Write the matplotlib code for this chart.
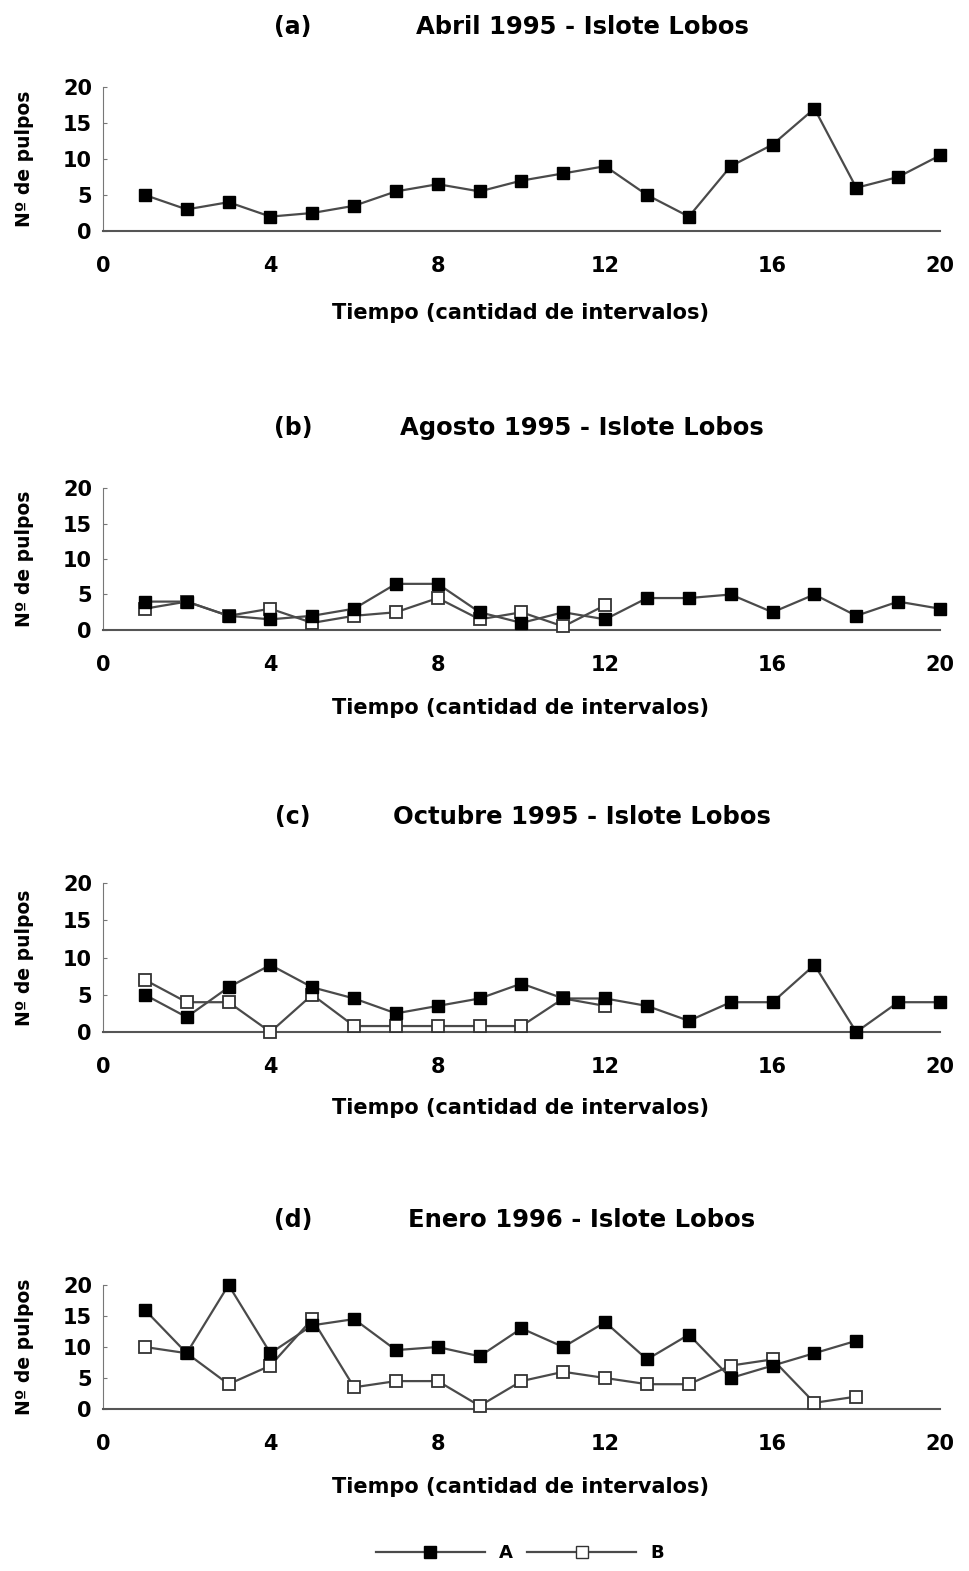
import matplotlib
matplotlib.use("Agg")
import matplotlib.pyplot as plt
from matplotlib.lines import Line2D

plt.rcParams['font.family'] = ['DejaVu Sans']
plt.rcParams['font.weight'] = 'bold'

# Data (number of octopuses per interval)
t20 = [1, 2, 3, 4, 5, 6, 7, 8, 9, 10, 11, 12, 13, 14, 15, 16, 17, 18, 19, 20]
t18 = [1, 2, 3, 4, 5, 6, 7, 8, 9, 10, 11, 12, 13, 14, 15, 16, 17, 18]
t12 = [1, 2, 3, 4, 5, 6, 7, 8, 9, 10, 11, 12]

abril_A = [5, 3, 4, 2, 2.5, 3.5, 5.5, 6.5, 5.5, 7, 8, 9, 5, 2, 9, 12, 17, 6, 7.5, 10.5]

agosto_A = [4, 4, 2, 1.5, 2, 3, 6.5, 6.5, 2.5, 1, 2.5, 1.5, 4.5, 4.5, 5, 2.5, 5, 2, 4, 3]
agosto_B = [3, 4, 2, 3, 1, 2, 2.5, 4.5, 1.5, 2.5, 0.5, 3.5]

octubre_A = [5, 2, 6, 9, 6, 4.5, 2.5, 3.5, 4.5, 6.5, 4.5, 4.5, 3.5, 1.5, 4, 4, 9, 0, 4, 4]
octubre_B = [7, 4, 4, 0, 5, 0.8, 0.8, 0.8, 0.8, 0.8, 4.5, 3.5]

enero_A = [16, 9, 20, 9, 13.5, 14.5, 9.5, 10, 8.5, 13, 10, 14, 8, 12, 5, 7, 9, 11]
enero_B = [10, 9, 4, 7, 14.5, 3.5, 4.5, 4.5, 0.5, 4.5, 6, 5, 4, 4, 7, 8, 1, 2]

panels = [
    ("(a)", "Abril 1995 - Islote Lobos", t20, abril_A, None, None),
    ("(b)", "Agosto 1995 - Islote Lobos", t20, agosto_A, t12, agosto_B),
    ("(c)", "Octubre 1995 - Islote Lobos", t20, octubre_A, t12, octubre_B),
    ("(d)", "Enero 1996 - Islote Lobos", t18, enero_A, t18, enero_B),
]

# pixel geometry (top of axes, bottom of axes, title y, xlabel y)
W, H = 970, 1571
geom = [(87, 231, 27, 313), (488, 630, 428, 708), (883, 1032, 817, 1108), (1285, 1409, 1220, 1487)]

fig = plt.figure(figsize=(W / 100, H / 100), dpi=100)

line_col = '#4a4a4a'
for (tag, title, xa, ya, xb, yb), (top, bot, ty, ly) in zip(panels, geom):
    ax = fig.add_axes([103 / W, 1 - bot / H, 837 / W, (bot - top) / H])
    # open series drawn first so filled squares sit on top where they overlap
    if xb is not None:
        ax.plot(xb, yb, '-s', color=line_col, lw=1.6, ms=9, mfc='white',
                mec='#333333', mew=1.3, zorder=3, clip_on=False)
    ax.plot(xa, ya, '-s', color=line_col, lw=1.6, ms=9, mfc='black',
            mec='black', zorder=4, clip_on=False)
    ax.set_xlim(0, 20)
    ax.set_ylim(0, 20)
    ax.set_xticks([0, 4, 8, 12, 16, 20])
    ax.set_yticks([0, 5, 10, 15, 20])
    ax.spines['top'].set_visible(False)
    ax.spines['right'].set_visible(False)
    ax.spines['left'].set_color('#777777')
    ax.spines['bottom'].set_color('#555555')
    ax.spines['bottom'].set_linewidth(1.5)
    ax.tick_params(axis='x', length=0, pad=18, labelsize=15)
    ax.tick_params(axis='y', length=3, direction='in', pad=8, labelsize=15,
                   color='#777777')
    for lab in ax.get_xticklabels() + ax.get_yticklabels():
        lab.set_fontweight('bold')
    ax.set_ylabel('Nº de pulpos', fontsize=13.5, fontweight='bold')
    ax.yaxis.set_label_coords(-0.083, 0.5)

    fig.text(293 / W, 1 - ty / H, tag, ha='center', va='center', fontsize=17,
             fontweight='bold')
    fig.text(582 / W, 1 - ty / H, title, ha='center', va='center', fontsize=17.5,
             fontweight='bold')
    fig.text(521 / W, 1 - ly / H, 'Tiempo (cantidad de intervalos)', ha='center',
             va='center', fontsize=15, fontweight='bold')

handles = [
    Line2D([], [], color=line_col, lw=1.6, marker='s', ms=9, mfc='black', mec='black'),
    Line2D([], [], color=line_col, lw=1.6, marker='s', ms=9, mfc='white', mec='#333333'),
]
fig.legend(handles, ['A', 'B'], loc='center', bbox_to_anchor=(520 / W, 1 - 1553 / H),
           ncol=2, frameon=False, handlelength=6.0, columnspacing=0.8,
           handletextpad=0.8, prop={'size': 13, 'weight': 'bold'})

fig.savefig('out.png', dpi=100)
